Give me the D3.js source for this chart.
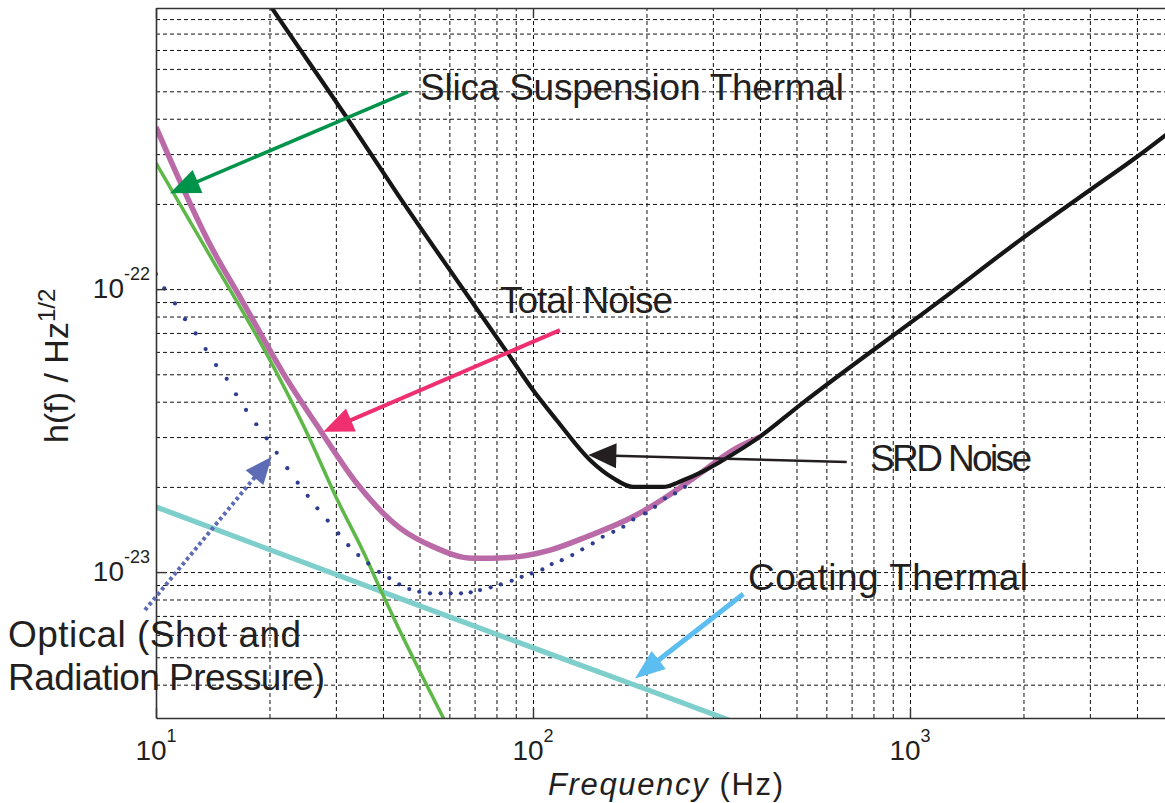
<!DOCTYPE html>
<html>
<head>
<meta charset="utf-8">
<script src="https://cdn.jsdelivr.net/npm/d3@7"></script>
<style>
  html, body { margin: 0; padding: 0; background: #fff; }
  svg { display: block; font-family: "Liberation Sans", Arial, Helvetica, sans-serif; }
</style>
</head>
<body>
<svg id="chart" width="1165" height="803"></svg>
<script>
// ---- Noise curves: frequency (Hz) and strain amplitude h(f) (1/sqrt(Hz)) ----
const srdFreq  = [18, 20.3, 32.1, 43.9, 62.8, 85.2, 100, 115.6, 141.6, 163, 184.2, 221.2, 250, 277.3, 313.3, 400, 510.7, 1225, 1958, 3003, 3993, 5000];
const srdNoise = [1.25e-21, 9.84e-22, 4.03e-22, 2.15e-22, 1.076e-22, 6.0e-23, 4.40e-23, 3.44e-23, 2.49e-23, 2.15e-23, 2.00e-23, 2.00e-23, 2.11e-23, 2.24e-23, 2.45e-23, 3.01e-23, 3.89e-23, 9.27e-23, 1.49e-22, 2.24e-22, 2.93e-22, 3.68e-22];

const totalFreq  = [10, 14.16, 16.88, 21.76, 27.23, 34.07, 44.4, 54.3, 69.3, 86.9, 111, 138.8, 184.2, 226.2, 277.3, 339.3, 400];
const totalNoise = [3.74e-22, 1.373e-22, 9.15e-23, 5.04e-23, 3.18e-23, 2.06e-23, 1.43e-23, 1.23e-23, 1.118e-23, 1.127e-23, 1.196e-23, 1.333e-23, 1.568e-23, 1.845e-23, 2.23e-23, 2.70e-23, 3.0e-23];

const silicaFreq  = [10, 13.63, 20.06, 25.6, 30.15, 35.47, 40.0, 43.85, 57.7, 60];
const silicaNoise = [2.79e-22, 1.373e-22, 5.61e-23, 2.95e-23, 1.82e-23, 1.18e-23, 8.3e-24, 6.4e-24, 3.07e-24, 2.77e-24];

const coatingFreq  = [10, 20, 50, 100, 200, 330];
const coatingNoise = [1.70e-23, 1.20e-23, 7.6e-24, 5.4e-24, 3.85e-24, 3.0e-24];

// Optical (shot + radiation pressure) noise, plotted as sampled points
const opticalFreq = [10.0, 10.52, 11.23, 11.94, 12.74, 13.54, 14.43, 15.40, 16.30, 17.33, 18.45, 19.66, 20.90, 22.30, 23.76, 25.26, 26.79, 28.54, 30.45, 32.36, 34.40, 36.56, 39.04, 41.57, 44.19, 46.97, 49.93, 53.31, 56.91, 60.48, 64.42, 68.34, 72.35, 77.23, 82.09, 87.81, 93.33, 99.22, 105.9, 112.1, 119.2, 127.1, 135.1, 144.0, 153.1, 163.3, 173.6, 184.5, 198.2, 210.7, 223.9, 238.1, 253.0];
const opticalNoise = [1.130e-22, 1.006e-22, 8.90e-23, 7.83e-23, 6.97e-23, 6.14e-23, 5.39e-23, 4.82e-23, 4.25e-23, 3.74e-23, 3.33e-23, 2.97e-23, 2.64e-23, 2.33e-23, 2.07e-23, 1.86e-23, 1.68e-23, 1.52e-23, 1.37e-23, 1.245e-23, 1.148e-23, 1.073e-23, 1.002e-23, 9.52e-24, 9.05e-24, 8.71e-24, 8.52e-24, 8.41e-24, 8.41e-24, 8.41e-24, 8.41e-24, 8.48e-24, 8.64e-24, 8.83e-24, 9.05e-24, 9.32e-24, 9.62e-24, 9.89e-24, 1.022e-23, 1.067e-23, 1.102e-23, 1.148e-23, 1.203e-23, 1.263e-23, 1.333e-23, 1.388e-23, 1.446e-23, 1.535e-23, 1.612e-23, 1.701e-23, 1.822e-23, 1.897e-23, 2.001e-23];

// ---- Axis ticks ----
const xMajorTicks = [10, 100, 1000];
const xTickExponents = ["1", "2", "3"];
const yMajorTicks = [1e-23, 1e-22];
const yTickExponents = ["-23", "-22"];
const xGridTicks = [20, 30, 40, 50, 60, 70, 80, 90, 100, 200, 300, 400, 500, 600, 700, 800, 900, 1000, 2000, 3000, 4000, 5000];
const yGridTicks = [4e-24, 5e-24, 6e-24, 7e-24, 8e-24, 9e-24,
                    1e-23, 2e-23, 3e-23, 4e-23, 5e-23, 6e-23, 7e-23, 8e-23, 9e-23,
                    1e-22, 2e-22, 3e-22, 4e-22, 5e-22, 6e-22, 7e-22, 8e-22, 9e-22];

// ---- Annotation arrows (tail -> tip, in data coordinates) ----
const arrowLabels  = ["silica", "total", "srd", "optical", "coating"];
const arrowTailF   = [46.6, 117.9, 679.5, 9.35, 361.3];
const arrowTailH   = [4.98e-22, 7.16e-23, 2.45e-23, 7.34e-24, 8.36e-24];
const arrowTipF    = [10.89, 27.79, 140.2, 20.27, 186.5];
const arrowTipH    = [2.18e-22, 3.13e-23, 2.59e-23, 2.555e-23, 4.21e-24];

// ---- Layout ----
const W = 1165, H = 803;
const plot = { left: 156, top: 8, right: 1173.5, bottom: 718 };

const svg = d3.select("#chart");

const x = d3.scaleLog().domain([10, 5000]).range([plot.left, plot.right]);
const y = d3.scaleLog().domain([3.05e-24, 9.85e-22]).range([plot.bottom, plot.top]);

svg.append("defs").append("clipPath").attr("id", "plotClip")
  .append("rect")
  .attr("x", plot.left).attr("y", plot.top)
  .attr("width", W - plot.left).attr("height", plot.bottom - plot.top);

// ---- Dashed grid ----
const gridColor = "#111";
const gx = svg.append("g")
  .attr("transform", `translate(0,${plot.bottom})`)
  .call(d3.axisBottom(x).tickValues(xGridTicks).tickSize(-(plot.bottom - plot.top)).tickSizeOuter(0).tickFormat(""));
gx.select(".domain").remove();
gx.selectAll("line").attr("stroke", gridColor).attr("stroke-width", 1)
  .attr("stroke-dasharray", "4,3");

const gy = svg.append("g")
  .attr("transform", `translate(${plot.left},0)`)
  .call(d3.axisLeft(y).tickValues(yGridTicks).tickSize(-(plot.right - plot.left)).tickSizeOuter(0).tickFormat(""));
gy.select(".domain").remove();
gy.selectAll("line").attr("stroke", gridColor).attr("stroke-width", 1)
  .attr("stroke-dasharray", "4,3");

// ---- Curves ----
const curves = svg.append("g").attr("clip-path", "url(#plotClip)");
const lineGen = d3.line().x(d => x(d[0])).y(d => y(d[1])).curve(d3.curveMonotoneX);
const pairs = (fs, hs) => fs.map((f, i) => [f, hs[i]]);

curves.append("path").datum(pairs(coatingFreq, coatingNoise))
  .attr("d", lineGen).attr("fill", "none").attr("stroke", "#7ecfcc").attr("stroke-width", 5.2);

curves.append("path").datum(pairs(silicaFreq, silicaNoise))
  .attr("d", lineGen).attr("fill", "none").attr("stroke", "#5db848").attr("stroke-width", 3.5);

curves.append("path").datum(pairs(totalFreq, totalNoise))
  .attr("d", lineGen).attr("fill", "none").attr("stroke", "#b96aa7").attr("stroke-width", 5.5);

curves.append("g").selectAll("circle").data(pairs(opticalFreq, opticalNoise)).join("circle")
  .attr("cx", d => x(d[0])).attr("cy", d => y(d[1])).attr("r", 2.1).attr("fill", "#2e3d8f");

curves.append("path").datum(pairs(srdFreq, srdNoise))
  .attr("d", lineGen).attr("fill", "none").attr("stroke", "#161616").attr("stroke-width", 4.2)
  .attr("stroke-linejoin", "round");

// ---- Axes (border with inward major ticks) ----
const axisColor = "#333";
const bottomAxis = svg.append("g").attr("transform", `translate(0,${plot.bottom})`)
  .call(d3.axisBottom(x).tickValues(xMajorTicks).tickSize(-10).tickSizeOuter(0).tickFormat(""));
const topAxis = svg.append("g").attr("transform", `translate(0,${plot.top})`)
  .call(d3.axisTop(x).tickValues(xMajorTicks).tickSize(-10).tickSizeOuter(0).tickFormat(""));
const leftAxis = svg.append("g").attr("transform", `translate(${plot.left},0)`)
  .call(d3.axisLeft(y).tickValues(yMajorTicks).tickSize(-10).tickSizeOuter(0).tickFormat(""));
[bottomAxis, topAxis, leftAxis].forEach(g => {
  g.selectAll("path.domain").attr("stroke", axisColor).attr("stroke-width", 1.6);
  g.selectAll("line").attr("stroke", axisColor).attr("stroke-width", 1.4);
});

const textColor = "#231f20";

// x tick labels: 10^n
xMajorTicks.forEach((v, i) => {
  const t = svg.append("text")
    .attr("x", x(v)).attr("y", 760)
    .attr("text-anchor", "middle").attr("fill", textColor).attr("font-size", 28);
  t.append("tspan").text("10");
  t.append("tspan").attr("font-size", 18).attr("dy", -18).text(xTickExponents[i]);
});

// y tick labels: 10^-n
yMajorTicks.forEach((v, i) => {
  const t = svg.append("text")
    .attr("x", 150).attr("y", y(v) + 9)
    .attr("text-anchor", "end").attr("fill", textColor).attr("font-size", 28);
  t.append("tspan").text("10");
  t.append("tspan").attr("font-size", 18).attr("dy", -18).text(yTickExponents[i]);
});

// Axis titles
const xTitle = svg.append("text")
  .attr("x", 548).attr("y", 795).attr("fill", textColor).attr("font-size", 31)
  .attr("textLength", 235).attr("lengthAdjust", "spacing");
xTitle.append("tspan").attr("font-style", "italic").text("Frequency");
xTitle.append("tspan").text(" (Hz)");

const yTitle = svg.append("text")
  .attr("transform", "translate(68,443) rotate(-90)")
  .attr("fill", textColor).attr("font-size", 34);
yTitle.append("tspan").text("h(f) / Hz");
yTitle.append("tspan").attr("font-size", 24).attr("dy", -13).text("1/2");

// ---- Arrows ----
const arrowStyle = {
  silica:  { color: "#00934a", width: 3.5, len: 30, half: 12.5, dash: null },
  total:   { color: "#ef2f6f", width: 4,   len: 30, half: 12.5, dash: null },
  srd:     { color: "#231f20", width: 2.6, len: 28, half: 12.5, dash: null },
  optical: { color: "#5e6cb5", width: 4,   len: 27, half: 11.5, dash: "3.5,3" },
  coating: { color: "#5bbdf0", width: 5,   len: 30, half: 11.5, dash: null }
};
const arrows = svg.append("g");
arrowLabels.forEach((key, i) => {
  const s = arrowStyle[key];
  const x1 = x(arrowTailF[i]), y1 = y(arrowTailH[i]);
  const x2 = x(arrowTipF[i]),  y2 = y(arrowTipH[i]);
  const L = Math.hypot(x2 - x1, y2 - y1);
  const ux = (x2 - x1) / L, uy = (y2 - y1) / L;
  const bx = x2 - ux * s.len, by = y2 - uy * s.len;
  const nx = -uy, ny = ux;
  const shaft = arrows.append("line")
    .attr("x1", x1).attr("y1", y1)
    .attr("x2", bx + ux * 2).attr("y2", by + uy * 2)
    .attr("stroke", s.color).attr("stroke-width", s.width);
  if (s.dash) shaft.attr("stroke-dasharray", s.dash);
  arrows.append("polygon")
    .attr("points", [[x2, y2], [bx + nx * s.half, by + ny * s.half], [bx - nx * s.half, by - ny * s.half]].map(p => p.join(",")).join(" "))
    .attr("fill", s.color);
});

// ---- Curve labels ----
const labelText  = ["Slica Suspension Thermal", "Total Noise", "SRD Noise", "Coating Thermal", "Optical (Shot and", "Radiation Pressure)"];
const labelX     = [420, 500, 870, 748, 8, 8];
const labelY     = [100, 313, 471, 590, 647, 690];
const labelWidth = [424, 173, 162, 280, 293, 317];
labelText.forEach((txt, i) => {
  svg.append("text")
    .attr("x", labelX[i]).attr("y", labelY[i])
    .attr("fill", textColor).attr("font-size", 37)
    .attr("textLength", labelWidth[i]).attr("lengthAdjust", "spacing")
    .text(txt);
});
</script>
</body>
</html>
